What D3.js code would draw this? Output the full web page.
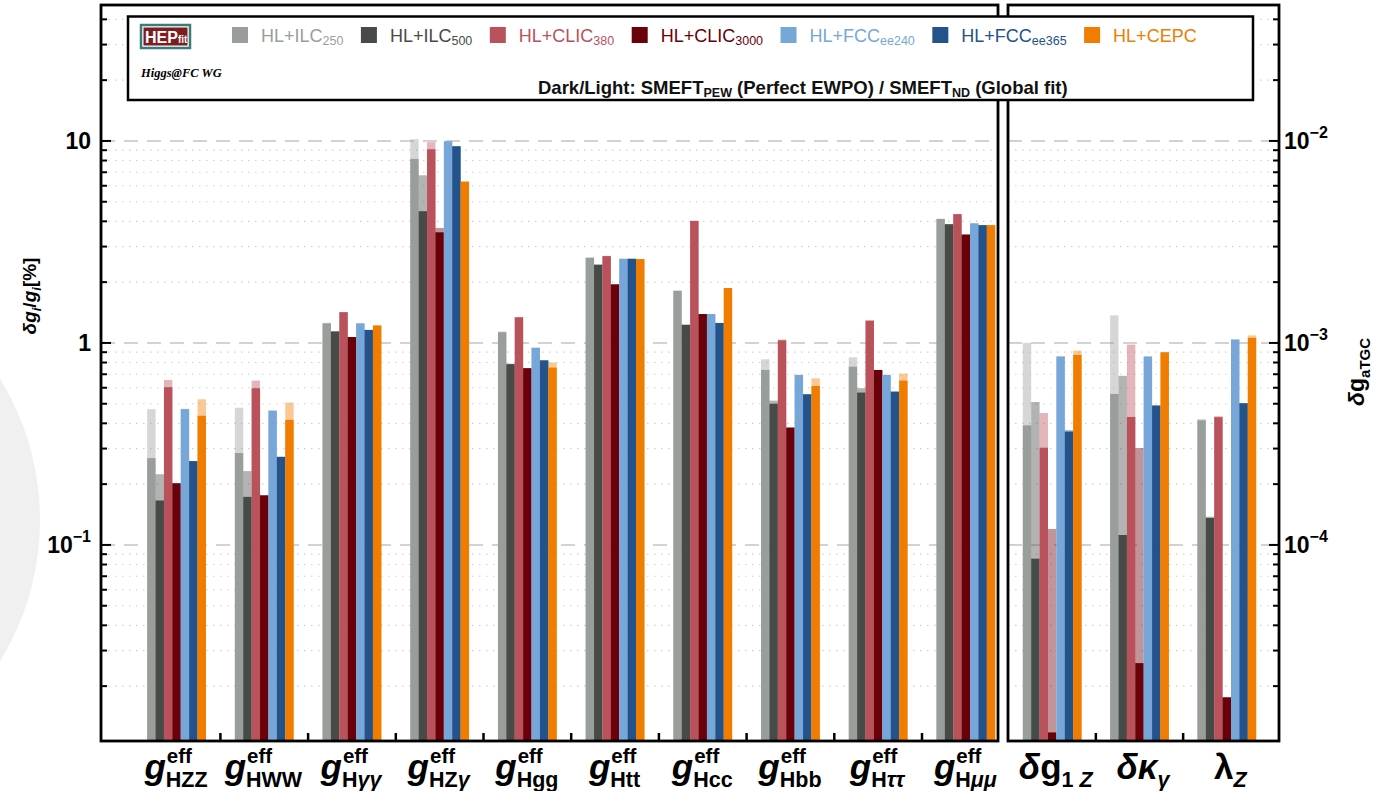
<!DOCTYPE html>
<html>
<head>
<meta charset="utf-8">
<script src="https://cdn.jsdelivr.net/npm/d3@7"></script>
<style>
  body { margin: 0; background: #fff; }
  svg { display: block; font-family: "Liberation Sans", Arial, Helvetica, sans-serif; }
</style>
</head>
<body>
<svg width="1377" height="791"></svg>
<script>
// ---- data ----
const higgsCats = ["HZZ", "HWW", "Hγγ", "HZγ", "Hgg", "Htt", "Hcc", "Hbb", "Hττ", "Hμμ"];
const tgcCats = ["dg1Z", "dkg", "lZ"];
const series = ["ILC250", "ILC500", "CLIC380", "CLIC3000", "FCCee240", "FCCee365", "CEPC"];
const legendMain = ["HL+ILC", "HL+ILC", "HL+CLIC", "HL+CLIC", "HL+FCC", "HL+FCC", "HL+CEPC"];
const legendSub = ["250", "500", "380", "3000", "ee240", "ee365", ""];
const colors = ["#9a9e9a", "#474b47", "#b9525b", "#6a0009", "#76a7d8", "#23538a", "#f07c00"];

// dark bars: SMEFT_PEW, in %
const higgsPEW = [
  [0.269, 0.285, 1.25, 8.15, 1.13, 2.64, 1.81, 0.735, 0.763, 4.11],
  [0.166, 0.173, 1.14, 4.49, 0.785, 2.44, 1.23, 0.50, 0.568, 3.87],
  [0.604, 0.597, 1.42, 9.10, 1.34, 2.69, 4.02, 1.03, 1.29, 4.34],
  [0.202, 0.176, 1.07, 3.53, 0.75, 1.95, 1.39, 0.381, 0.735, 3.44],
  [0.470, 0.461, 1.25, 9.97, 0.945, 2.61, 1.39, 0.694, 0.694, 3.91],
  [0.260, 0.273, 1.16, 9.41, 0.82, 2.61, 1.256, 0.557, 0.574, 3.83],
  [0.436, 0.416, 1.22, 6.29, 0.755, 2.60, 1.87, 0.612, 0.651, 3.83]
];
// light bars: SMEFT_ND, in %
const higgsND = [
  [0.470, 0.478, 1.26, 10.2, 1.14, 2.65, 1.82, 0.83, 0.849, 4.12],
  [0.224, 0.232, 1.14, 6.76, 0.79, 2.44, 1.23, 0.518, 0.597, 3.87],
  [0.656, 0.651, 1.42, 9.86, 1.34, 2.70, 4.02, 1.04, 1.29, 4.34],
  [0.202, 0.176, 1.07, 3.71, 0.75, 1.95, 1.39, 0.381, 0.735, 3.44],
  [0.472, 0.465, 1.25, 9.97, 0.95, 2.61, 1.39, 0.696, 0.696, 3.91],
  [0.260, 0.273, 1.16, 9.41, 0.82, 2.61, 1.256, 0.557, 0.574, 3.83],
  [0.526, 0.507, 1.22, 6.29, 0.799, 2.60, 1.87, 0.668, 0.705, 3.83]
];
// aTGC, absolute
const tgcPEW = [
  [3.91e-4, 5.59e-4, 4.14e-4],
  [8.55e-5, 1.12e-4, 1.36e-4],
  [3.03e-4, 4.30e-4, 4.29e-4],
  [1.18e-5, 2.60e-5, 1.76e-5],
  [8.56e-4, 8.56e-4, 1.04e-3],
  [3.64e-4, 4.90e-4, 5.03e-4],
  [8.72e-4, 8.99e-4, 1.06e-3]
];
const tgcND = [
  [1.00e-3, 1.37e-3, 4.20e-4],
  [5.10e-4, 6.87e-4, 1.38e-4],
  [4.50e-4, 9.81e-4, 4.34e-4],
  [1.20e-4, 3.02e-4, 1.76e-5],
  [8.60e-4, 8.60e-4, 1.04e-3],
  [3.70e-4, 4.90e-4, 5.03e-4],
  [9.16e-4, 9.00e-4, 1.09e-3]
];
const leftTicks = [0.1, 1, 10];
const rightTicks = [1e-4, 1e-3, 1e-2];

// ---- layout ----
const svg = d3.select("svg");
const yTop = 5, yBottom = 741;
const leftPanel = { x0: 101, x1: 998 };
const rightPanel = { x0: 1008, x1: 1279 };

const yL = d3.scaleLog().domain([0.0107, 47.1]).range([yBottom, yTop]);
const yR = d3.scaleLog().domain([0.0107e-3, 47.1e-3]).range([yBottom, yTop]);

const xL = d3.scaleBand().domain(higgsCats).range([132.7, 1009.7]);
const xR = d3.scaleBand().domain(tgcCats).range([1008.55, 1270.45]);
const barW = 8.4;
const inner = d3.scaleBand().domain(series).range([0, barW * series.length]);

svg.append("rect").attr("width", 1377).attr("height", 791).attr("fill", "#fff");

// faint watermark arc at the left edge
svg.append("path")
  .attr("d", d3.arc().innerRadius(230).outerRadius(270).startAngle(Math.PI * 0.2).endAngle(Math.PI * 0.8)())
  .attr("transform", "translate(-230,520)")
  .attr("fill", "#f0f0f0");

function minorValues(scale) {
  const [a, b] = scale.domain();
  return scale.ticks(60).filter(v => v >= a && v <= b);
}
function isMajor(v) {
  return Math.abs(Math.log10(v) - Math.round(Math.log10(v))) < 1e-6;
}

function drawPanel(p, y, x, cats, pew, nd, tickSide) {
  const g = svg.append("g");
  const vals = minorValues(y);
  // grid
  g.selectAll("line.grid").data(vals).enter().append("line")
    .attr("x1", p.x0).attr("x2", p.x1)
    .attr("y1", d => y(d)).attr("y2", d => y(d))
    .attr("stroke", d => isMajor(d) ? "#c4c4c4" : "#cfcfcf")
    .attr("stroke-width", d => isMajor(d) ? 1.6 : 1.2)
    .attr("stroke-dasharray", d => isMajor(d) ? "14,9" : "1.5,5.5");

  // bars: light (ND) behind, dark (PEW) in front
  const off = (x.bandwidth() - inner.range()[1]) / 2;
  series.forEach((s, si) => {
    cats.forEach((c, ci) => {
      const bx = x(c) + off + inner(s);
      g.append("rect")
        .attr("x", bx).attr("width", barW)
        .attr("y", y(nd[si][ci])).attr("height", yBottom - y(nd[si][ci]))
        .attr("fill", colors[si]).attr("fill-opacity", 0.42);
      g.append("rect")
        .attr("x", bx).attr("width", barW)
        .attr("y", y(pew[si][ci])).attr("height", yBottom - y(pew[si][ci]))
        .attr("fill", colors[si]);
    });
  });

  // x ticks between groups
  g.selectAll("line.xt").data(cats.slice(1)).enter().append("line")
    .attr("x1", d => x(d)).attr("x2", d => x(d))
    .attr("y1", yBottom).attr("y2", yBottom - 8)
    .attr("stroke", "#000").attr("stroke-width", 2.5);

  // y ticks (inward)
  const ax = tickSide === "left" ? p.x0 : p.x1;
  const dir = tickSide === "left" ? 1 : -1;
  g.selectAll("line.yt").data(vals).enter().append("line")
    .attr("x1", ax).attr("x2", d => ax + dir * (isMajor(d) ? 10 : 6))
    .attr("y1", d => y(d)).attr("y2", d => y(d))
    .attr("stroke", "#000").attr("stroke-width", 2);

  // frame
  g.append("rect")
    .attr("x", p.x0).attr("y", yTop)
    .attr("width", p.x1 - p.x0).attr("height", yBottom - yTop)
    .attr("fill", "none").attr("stroke", "#000").attr("stroke-width", 2.8);
}

drawPanel(leftPanel, yL, xL, higgsCats, higgsPEW, higgsND, "left");
drawPanel(rightPanel, yR, xR, tgcCats, tgcPEW, tgcND, "right");

// ---- y tick labels ----
function powLabel(sel, v) {
  const e = Math.round(Math.log10(v));
  if (e === 0) { sel.text("1"); return; }
  if (e === 1) { sel.text("10"); return; }
  sel.append("tspan").text("10");
  sel.append("tspan").attr("dy", -11).style("font-size", "16px").text("\u2212" + Math.abs(e));
}
leftTicks.forEach(v => {
  const t = svg.append("text").attr("x", 91).attr("y", yL(v) + 8)
    .attr("text-anchor", "end").style("font-size", "23px").style("font-weight", "bold");
  powLabel(t, v);
});
rightTicks.forEach(v => {
  const t = svg.append("text").attr("x", 1284).attr("y", yR(v) + 8)
    .style("font-size", "23px").style("font-weight", "bold");
  powLabel(t, v);
});

// ---- axis titles ----
const lt = svg.append("text").attr("transform", "translate(36,296) rotate(-90)")
  .attr("text-anchor", "middle").style("font-size", "19px").style("font-weight", "bold");
lt.append("tspan").style("font-style", "italic").text("δg");
lt.append("tspan").attr("dy", 5).style("font-size", "13px").style("font-style", "italic").text("i");
lt.append("tspan").attr("dy", -5).text("/");
lt.append("tspan").style("font-style", "italic").text("g");
lt.append("tspan").attr("dy", 5).style("font-size", "13px").style("font-style", "italic").text("i");
lt.append("tspan").attr("dy", -5).text("[%]");

const rt = svg.append("text").attr("transform", "translate(1364,372) rotate(-90)")
  .attr("text-anchor", "middle").style("font-size", "23px").style("font-weight", "bold");
rt.append("tspan").style("font-style", "italic").text("δ");
rt.append("tspan").text("g");
rt.append("tspan").attr("dy", 6).style("font-size", "15px").text("aTGC");

// ---- x labels (one text element each, sup/sub stacked via tspan x) ----
function xLabel(cx, mainParts, sup, subStr, subItalic) {
  const g = svg.append("g");
  const t = g.append("text").attr("x", 0).attr("y", 779).style("font-weight", "bold");
  mainParts.forEach(p => t.append("tspan").style("font-size", "35px")
    .style("font-style", p.i ? "italic" : "normal").text(p.t));
  const mw = t.node().getComputedTextLength();
  if (sup) {
    t.append("tspan").attr("x", mw + 1).attr("y", 763).style("font-size", "20.5px").text(sup);
  }
  [...subStr].forEach((ch, k) => {
    const ts = t.append("tspan").style("font-size", "21.5px")
      .style("font-style", subItalic.includes(ch) ? "italic" : "normal").text(ch);
    if (k === 0) ts.attr("x", mw).attr("y", 786.5);
  });
  const w = t.node().getBBox().width;
  g.attr("transform", `translate(${cx - w / 2},0)`);
}
higgsCats.forEach(c => {
  xLabel(xL(c) + xL.bandwidth() / 2, [{ t: "g", i: true }], "eff", c, "γτμ");
});
const tgcLabels = [
  { main: [{ t: "δ", i: true }, { t: "g", i: false }], sub: "1 Z" },
  { main: [{ t: "δκ", i: true }], sub: "γ" },
  { main: [{ t: "λ", i: false }], sub: "Z" }
];
tgcCats.forEach((c, i) => {
  xLabel(xR(c) + xR.bandwidth() / 2 + 4, tgcLabels[i].main, null, tgcLabels[i].sub, "Zγ");
});

// ---- legend box ----
const lg = svg.append("g");
lg.append("rect").attr("x", 128).attr("y", 16.5).attr("width", 1125).attr("height", 83.5)
  .attr("fill", "#fff").attr("stroke", "#000").attr("stroke-width", 2.5);

// HEPfit logo
lg.append("rect").attr("x", 141).attr("y", 25).attr("width", 49).attr("height", 23)
  .attr("fill", "#fff").attr("stroke", "#3b7c7a").attr("stroke-width", 2.5);
lg.append("rect").attr("x", 143.5).attr("y", 27.5).attr("width", 44).attr("height", 18)
  .attr("fill", "#7b1e22");
const logo = lg.append("text").attr("x", 145).attr("y", 43).attr("fill", "#fff").style("font-weight", "bold");
logo.append("tspan").style("font-size", "16px").text("HEP");
logo.append("tspan").style("font-size", "10px").text("fit");
lg.append("text").attr("x", 141).attr("y", 77)
  .style("font-family", "'Liberation Serif', 'Times New Roman', serif")
  .style("font-style", "italic").style("font-weight", "bold").style("font-size", "12.5px")
  .text("Higgs@FC WG");

// legend entries flow left to right
let lx = 232;
series.forEach((s, i) => {
  lg.append("rect").attr("x", lx).attr("y", 27).attr("width", 16).attr("height", 16)
    .attr("fill", colors[i]);
  const t = lg.append("text").attr("x", lx + 29).attr("y", 42)
    .attr("fill", colors[i]).style("font-size", "18px");
  t.append("tspan").text(legendMain[i]);
  if (legendSub[i]) t.append("tspan").attr("dy", 3).style("font-size", "12.5px").text(legendSub[i]);
  lx = lx + 29 + t.node().getComputedTextLength() + 17.5;
});

const dl = lg.append("text").attr("x", 538).attr("y", 94)
  .style("font-size", "18.5px").style("font-weight", "bold").attr("fill", "#111");
dl.append("tspan").text("Dark/Light: SMEFT");
dl.append("tspan").attr("dy", 3).style("font-size", "12.5px").text("PEW");
dl.append("tspan").attr("dy", -3).text(" (Perfect EWPO) / SMEFT");
dl.append("tspan").attr("dy", 3).style("font-size", "12.5px").text("ND");
dl.append("tspan").attr("dy", -3).text(" (Global fit)");
</script>
</body>
</html>
